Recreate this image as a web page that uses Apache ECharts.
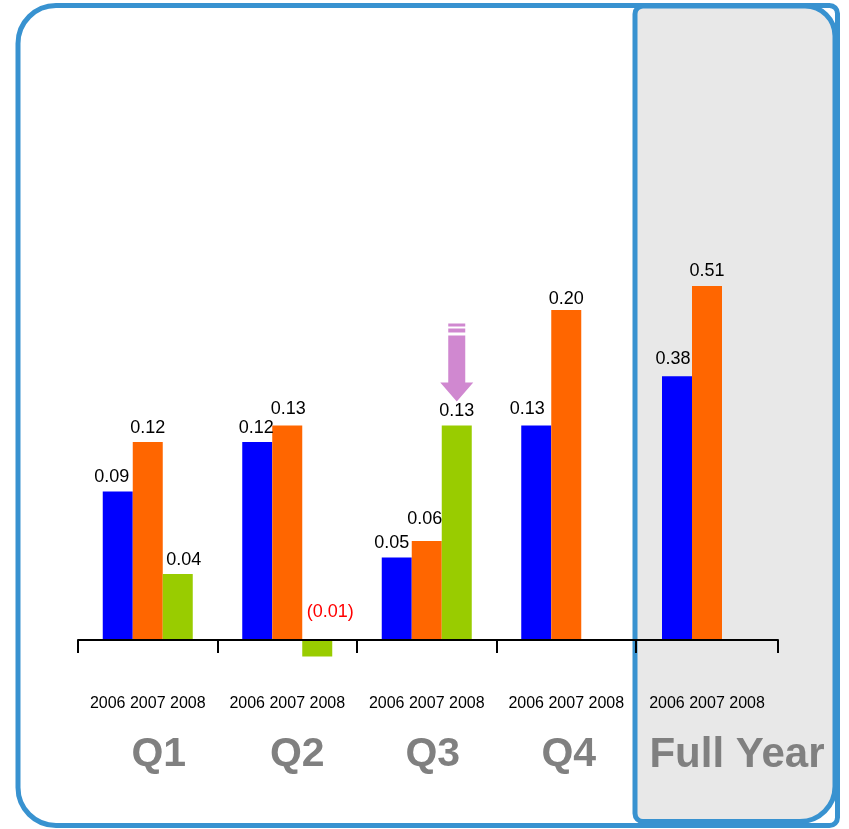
<!DOCTYPE html>
<html>
<head>
<meta charset="utf-8">
<script src="https://cdn.jsdelivr.net/npm/echarts@6/dist/echarts.min.js"></script>
<style>
  html, body { margin: 0; padding: 0; background: #ffffff; }
  #chart { width: 849px; height: 829px; }
</style>
</head>
<body>
<div id="chart"></div>
<script>
// Earnings per share by quarter, 2006-2008, plus full-year totals
const quarters = ['Q1', 'Q2', 'Q3', 'Q4'];
const fullYear = ['Full Year'];
const years = ['2006', '2007', '2008'];

const q2006 = [0.09, 0.12, 0.05, 0.13];
const q2007 = [0.12, 0.13, 0.06, 0.20];
const q2008 = [0.04, -0.01, 0.13, null];

const fy2006 = [0.38];
const fy2007 = [0.51];
const fy2008 = [null];

// ---- styling ----
const FONT = 'Liberation Sans, Arial, sans-serif';
const BORDER = '#3892d0';
const yearColors = { '2006': '#0000ff', '2007': '#ff6600', '2008': '#99cc00' };
const BAR_W = 30;

// small per-label nudges so value labels sit where they read best
const labelNudge = {
  '2006|Q1': [-6, 0], '2008|Q1': [6, 0],
  '2006|Q2': [-1, 0], '2007|Q2': [1, -2], '2008|Q2': [13, -14],
  '2006|Q3': [-5, 0], '2007|Q3': [-2, -8],
  '2006|Q4': [-9, -2], '2007|Q4': [0, 3],
  '2006|Full Year': [-4, -3], '2007|Full Year': [0, -1]
};

// horizontal shift of each big category caption (padding-left, px)
const captionPad = { 'Q1': 22, 'Q2': 20, 'Q3': 12, 'Q4': 5, 'Full Year': 60 };
const captionKey = { 'Q1': 'c1', 'Q2': 'c2', 'Q3': 'c3', 'Q4': 'c4', 'Full Year': 'c5' };

function fmtValue(v) {
  return v < 0 ? '(' + Math.abs(v).toFixed(2) + ')' : v.toFixed(2);
}

function barSeries(year, cats, values, idx) {
  return {
    type: 'bar',
    name: year,
    xAxisIndex: idx,
    yAxisIndex: idx,
    barWidth: BAR_W,
    barGap: '0%',
    itemStyle: { color: yearColors[year] },
    label: {
      show: true,
      position: 'top',
      distance: 5,
      fontFamily: FONT,
      fontSize: 18,
      color: '#000000',
      formatter: p => fmtValue(p.value)
    },
    data: values.map((v, i) => v == null ? '-' : {
      value: v,
      label: {
        offset: labelNudge[year + '|' + cats[i]] || [0, 0],
        color: v < 0 ? '#ff0000' : '#000000'
      }
    })
  };
}

const rich = {
  yr: { fontFamily: FONT, fontSize: 16, color: '#000000', lineHeight: 20 }
};
Object.keys(captionKey).forEach(name => {
  rich[captionKey[name]] = {
    fontFamily: FONT, fontSize: name === 'Full Year' ? 42 : 41, fontWeight: 'bold', color: '#808080',
    lineHeight: 82, padding: [0, 0, 0, captionPad[name]]
  };
});

const GRID_TOP = 145;
const GRID_H = 577.5;
// labels are laid out from the grid's bottom edge, which sits below the zero line
const LABEL_MARGIN = -28.5;

function categoryAxis(idx, cats) {
  return {
    type: 'category',
    gridIndex: idx,
    data: cats,
    z: 5,
    axisLine: { onZero: true, lineStyle: { color: '#000000', width: 2 } },
    axisTick: { show: true, length: 13, lineStyle: { color: '#000000', width: 2 } },
    axisLabel: {
      interval: 0,
      margin: LABEL_MARGIN,
      formatter: v => '{yr|' + years.join(' ') + '}\n{' + captionKey[v] + '|' + v + '}',
      rich: rich
    },
    splitLine: { show: false }
  };
}

const chart = echarts.init(document.getElementById('chart'), null, { renderer: 'canvas' });

const panels = [
  {
    type: 'rect', z: -10,
    shape: { x: 18, y: 5.5, width: 819.5, height: 820, r: [38, 8, 8, 38] },
    style: { fill: '#ffffff', stroke: BORDER, lineWidth: 5 }
  },
  {
    type: 'rect', z: -9,
    shape: { x: 635, y: 6, width: 200, height: 815.5, r: [8, 30, 35, 8] },
    style: { fill: '#e8e8e8', stroke: BORDER, lineWidth: 5 }
  }
];

chart.setOption({
  animation: false,
  backgroundColor: '#ffffff',
  graphic: panels,
  grid: [
    { left: 78, top: GRID_TOP, width: 558, height: GRID_H, containLabel: false, outerBoundsMode: 'none' },
    { left: 636, top: GRID_TOP, width: 142, height: GRID_H, containLabel: false, outerBoundsMode: 'none' }
  ],
  xAxis: [categoryAxis(0, quarters), categoryAxis(1, fullYear)],
  yAxis: [
    { type: 'value', gridIndex: 0, min: -0.05, max: 0.30, show: false, splitLine: { show: false } },
    { type: 'value', gridIndex: 1, min: -0.1189, max: 0.713, show: false, splitLine: { show: false } }
  ],
  series: [
    barSeries('2006', quarters, q2006, 0),
    barSeries('2007', quarters, q2007, 0),
    barSeries('2008', quarters, q2008, 0),
    barSeries('2006', fullYear, fy2006, 1),
    barSeries('2007', fullYear, fy2007, 1),
    barSeries('2008', fullYear, fy2008, 1)
  ]
});

// Downward arrow pointing at the Q3 2008 bar
const q3x = chart.convertToPixel({ xAxisIndex: 0 }, 'Q3') + BAR_W; // third slot of the group
const q3top = chart.convertToPixel({ yAxisIndex: 0 }, q2008[2]);
const tipY = q3top - 24;
const ax = q3x;
const ARROW = '#d088d0';
chart.setOption({
  graphic: panels.concat([
    {
      type: 'group', z: 10,
      children: [
        { type: 'rect', shape: { x: ax - 8.5, y: tipY - 78, width: 17, height: 3 }, style: { fill: ARROW } },
        { type: 'rect', shape: { x: ax - 8.5, y: tipY - 73, width: 17, height: 4 }, style: { fill: ARROW } },
        {
          type: 'polygon',
          shape: {
            points: [
              [ax - 8.5, tipY - 66], [ax + 8.5, tipY - 66], [ax + 8.5, tipY - 19],
              [ax + 16.5, tipY - 19], [ax, tipY], [ax - 16.5, tipY - 19], [ax - 8.5, tipY - 19]
            ]
          },
          style: { fill: ARROW }
        }
      ]
    }
  ])
});
</script>
</body>
</html>
